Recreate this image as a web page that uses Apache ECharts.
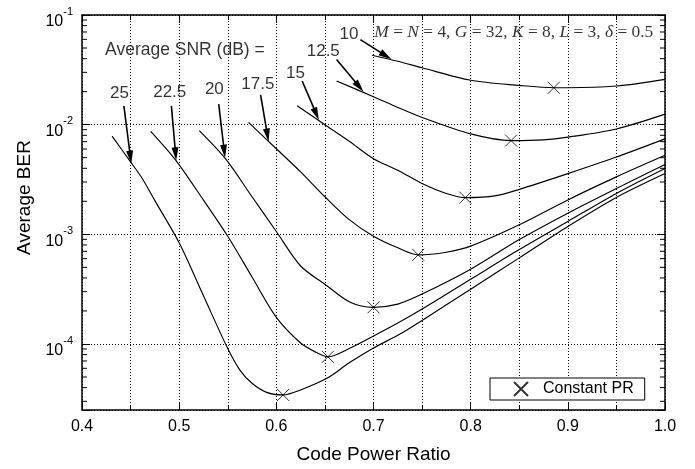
<!DOCTYPE html>
<html><head><meta charset="utf-8">
<script src="https://cdn.jsdelivr.net/npm/echarts@6/dist/echarts.min.js"></script>
<style>html,body{margin:0;padding:0;background:#fff}#c{width:695px;height:469px}</style>
</head><body><div id="c"></div>
<script>
// ---- data ----
const xTickLabels = ['0.4','0.5','0.6','0.7','0.8','0.9','1.0'];
const yDecadeLabels = [-4, -3, -2, -1];
const snrNames = ['10', '12.5', '15', '17.5', '20', '22.5', '25'];
const ber10 = [[0.6985,4.3e-2],[0.725,3.79e-2],[0.75,3.3e-2],[0.8,2.54e-2],[0.85,2.28e-2],[0.886,2.17e-2],[0.9,2.17e-2],[0.95,2.25e-2],[1.0,2.59e-2]];
const ber12p5 = [[0.662,2.5e-2],[0.7,1.8e-2],[0.725,1.436e-2],[0.75,1.164e-2],[0.8,8.24e-3],[0.842,7.16e-3],[0.875,7.27e-3],[0.9,7.69e-3],[0.95,9.14e-3],[1.0,1.248e-2]];
const ber15 = [[0.6214,1.486e-2],[0.65,1.0e-2],[0.675,7.07e-3],[0.7,4.9e-3],[0.725,3.84e-3],[0.75,2.91e-3],[0.775,2.36e-3],[0.795,2.16e-3],[0.825,2.24e-3],[0.85,2.57e-3],[0.9,3.58e-3],[0.95,5.07e-3],[1.0,7.42e-3]];
const ber17p5 = [[0.5714,1.05e-2],[0.6,6.03e-3],[0.625,3.71e-3],[0.65,2.2e-3],[0.675,1.36e-3],[0.7,9.6e-4],[0.725,7.53e-4],[0.746,6.5e-4],[0.775,6.87e-4],[0.8,7.8e-4],[0.85,1.22e-3],[0.9,2.06e-3],[0.95,3.34e-3],[1.0,5.25e-3]];
const ber20 = [[0.5207,8.83e-3],[0.548,4.85e-3],[0.575,2.2e-3],[0.6,1.06e-3],[0.625,5.14e-4],[0.65,3.51e-4],[0.676,2.4e-4],[0.7,2.16e-4],[0.725,2.31e-4],[0.75,2.85e-4],[0.8,4.8e-4],[0.85,8.95e-4],[0.9,1.56e-3],[0.95,2.62e-3],[1.0,4.33e-3]];
const ber22p5 = [[0.4707,8.7e-3],[0.4966,4.73e-3],[0.525,2.05e-3],[0.55,9.6e-4],[0.575,4.08e-4],[0.6,1.75e-4],[0.625,1.02e-4],[0.64,8.47e-5],[0.653,7.63e-5],[0.675,9.08e-5],[0.7,1.18e-4],[0.725,1.55e-4],[0.75,2.08e-4],[0.8,3.89e-4],[0.85,7.26e-4],[0.9,1.31e-3],[0.95,2.36e-3],[1.0,3.98e-3]];
const ber25 = [[0.431,7.85e-3],[0.45,4.57e-3],[0.462,3.23e-3],[0.475,2.03e-3],[0.5,8.36e-4],[0.525,2.75e-4],[0.55,9.08e-5],[0.5625,5.78e-5],[0.575,4.38e-5],[0.59,3.62e-5],[0.607,3.43e-5],[0.625,3.81e-5],[0.652,4.86e-5],[0.675,6.73e-5],[0.7,9.2e-5],[0.725,1.2e-4],[0.75,1.64e-4],[0.8,3.16e-4],[0.85,6.1e-4],[0.9,1.18e-3],[0.95,2.17e-3],[1.0,3.58e-3]];
const constantPR = [[0.607,3.43e-5],[0.653,7.63e-5],[0.70,2.16e-4],[0.746,6.5e-4],[0.7945,2.16e-3],[0.8416,7.16e-3],[0.8856,2.17e-2]];
// annotation label positions (data coords)
const snrLabelX = [0.6748, 0.6483, 0.6197, 0.581, 0.5362, 0.4903, 0.4386];
const snrLabelY = [0.0661, 0.0467, 0.0297, 0.0233, 0.021, 0.0199, 0.0192];
const arrowFromX = [0.6865, 0.662, 0.6266, 0.5838, 0.5407, 0.492, 0.4431];
const arrowFromY = [0.0596, 0.0392, 0.025, 0.01866, 0.01538, 0.01485, 0.01485];
const arrowToX = [0.7184, 0.6897, 0.6438, 0.592, 0.5472, 0.4969, 0.4507];
const arrowToY = [0.0395, 0.02, 0.01102, 0.00702, 0.005, 0.00473, 0.00441];
const headerText = 'Average SNR (dB) =';
const headerPos = [0.5059, 0.0475];
const paramPos = [0.8444, 0.0689];
const minorMultipliers = [2,3,4,5,6,7,8,9];
const minorDecades = [1e-5,1e-4,1e-3,1e-2];

// ---- chart ----
const SANS = '"Liberation Sans", Arial, Helvetica, sans-serif';
const SERIF = '"Liberation Serif", "Times New Roman", serif';
const X_MIN = 0.4, X_MAX = 1.0, Y_MIN = 2.5e-5, Y_MAX = 0.1;
const minorVals = [];
minorDecades.forEach(d => minorMultipliers.forEach(m => { const v = d*m; if (v > Y_MIN && v < Y_MAX) minorVals.push(v); }));

const chart = echarts.init(document.getElementById('c'), null, {renderer:'canvas'});
const curves = [ber10, ber12p5, ber15, ber17p5, ber20, ber22p5, ber25];
const dotted = {color:'#000', width:1, type:[1,2]};
const xCommon = {
  type:'value', min:X_MIN, max:X_MAX, interval:0.1,
  axisLine:{show:true, onZero:false, lineStyle:{color:'#000', width:1.5}},
  axisTick:{show:true, inside:true, length:8, lineStyle:{color:'#000', width:1}},
  minorTick:{show:true, splitNumber:2, length:5, lineStyle:{color:'#000', width:1}},
};
const yCommon = {
  type:'log', logBase:10, min:Y_MIN, max:Y_MAX,
  axisLine:{show:true, onZero:false, lineStyle:{color:'#000', width:1.5}},
  axisTick:{show:true, inside:true, length:8, lineStyle:{color:'#000', width:1}},
};
function isDecade(v){ const l = Math.log10(v); return Math.abs(l - Math.round(l)) < 1e-6; }
const crossPath = 'path://M0,0L10,10M10,0L0,10';

const series = curves.map((c, i) => ({
  name: snrNames[i], type:'line', data:c, showSymbol:false, symbol:'none',
  smooth:0.3,
  lineStyle:{color:'#000', width:1.15}, z:3, silent:true
}));
series.push({
  name:'Constant PR', type:'scatter', data:constantPR, symbol:crossPath, symbolSize:12,
  itemStyle:{color:'rgba(0,0,0,0)', borderColor:'#000', borderWidth:1}, z:5
});
series.push({
  name:'arrows', type:'custom', silent:true, clip:false,
  data: arrowFromX.map((x, i) => [x, arrowFromY[i], arrowToX[i], arrowToY[i]]),
  encode:{x:[0,2], y:[1,3]},
  renderItem:(params, api) => {
    const a = api.coord([api.value(0), api.value(1)]);
    const b = api.coord([api.value(2), api.value(3)]);
    const dx = b[0]-a[0], dy = b[1]-a[1];
    const len = Math.sqrt(dx*dx + dy*dy);
    const ux = dx/len, uy = dy/len;
    const hl = 13, hw = 3.5;
    const bx = b[0] - ux*hl, by = b[1] - uy*hl;
    return {type:'group', children:[
      {type:'line', shape:{x1:a[0], y1:a[1], x2:bx + ux*2, y2:by + uy*2}, style:{stroke:'#000', lineWidth:1.6}},
      {type:'polygon', shape:{points:[[b[0], b[1]], [bx - uy*hw, by + ux*hw], [bx + uy*hw, by - ux*hw]]}, style:{fill:'#000'}}
    ]};
  }, z:6
});
series.push({
  name:'snrLabels', type:'scatter', silent:true, symbolSize:0,
  data: snrLabelX.map((x, i) => ({name:snrNames[i], value:[x, snrLabelY[i]]})),
  label:{show:true, position:'inside', formatter:'{b}', fontFamily:SANS, fontSize:17, color:'#000'}, z:7
});
series.push({
  name:'header', type:'scatter', silent:true, symbolSize:0,
  data:[{name:headerText, value:headerPos}],
  label:{show:true, position:'inside', formatter:'{b}', fontFamily:SANS, fontSize:17.5, color:'#000'}, z:7
});
series.push({
  name:'params', type:'scatter', silent:true, symbolSize:0,
  data:[{name:'params', value:paramPos}],
  label:{show:true, position:'inside', color:'#000',
    formatter:'{i|M}{n| = }{i|N}{n| = 4, }{i|G}{n| = 32, }{i|K}{n| = 8, }{i|L}{n| = 3, }{i|δ}{n| = 0.5}',
    rich:{
      i:{fontFamily:SERIF, fontStyle:'italic', fontSize:17.4, color:'#000'},
      n:{fontFamily:SERIF, fontSize:17.4, color:'#000'}
    }}, z:7
});
series.push({
  name:'minorTicks', type:'custom', silent:true, clip:false,
  data: minorVals.map(v => [X_MIN, v]),
  renderItem:(params, api) => {
    const v = api.value(1);
    const p = api.coord([X_MIN, v]);
    const q = api.coord([X_MAX, v]);
    return {type:'group', children:[
      {type:'line', shape:{x1:p[0], y1:p[1], x2:p[0]+5, y2:p[1]}, style:{stroke:'#000', lineWidth:1}},
      {type:'line', shape:{x1:q[0]-5, y1:q[1], x2:q[0], y2:q[1]}, style:{stroke:'#000', lineWidth:1}}
    ]};
  }, z:8
});

chart.setOption({
  animation:false,
  backgroundColor:'#fff',
  textStyle:{fontFamily:SANS, color:'#000'},
  grid:{left:82, right:30, top:15, bottom:53, containLabel:false, show:false},
  legend:{
    data:['Constant PR'], left:490, top:378, orient:'horizontal',
    backgroundColor:'#fff', borderColor:'#000', borderWidth:1, borderRadius:0,
    padding:[3, 11, 3, 23], itemWidth:14, itemHeight:14, selectedMode:false,
    textStyle:{fontFamily:SANS, fontSize:16, color:'#000', padding:[0,0,0,10]}
  },
  xAxis:[
    Object.assign({}, xCommon, {
      position:'bottom',
      name:'Code Power Ratio', nameLocation:'middle', nameGap:35,
      nameTextStyle:{fontFamily:SANS, fontSize:19, color:'#000'},
      axisLabel:{show:true, margin:9, fontFamily:SANS, fontSize:16, color:'#000',
        formatter:v => { const i = Math.round((v - X_MIN) * 10); return xTickLabels[i] !== undefined ? xTickLabels[i] : ''; }},
      splitLine:{show:true, lineStyle:dotted},
      minorSplitLine:{show:true, lineStyle:dotted}
    }),
    Object.assign({}, xCommon, {position:'top', axisLabel:{show:false}, splitLine:{show:false}})
  ],
  yAxis:[
    Object.assign({}, yCommon, {
      position:'left',
      name:'Average BER', nameLocation:'middle', nameGap:40,
      nameTextStyle:{fontFamily:SANS, fontSize:19, color:'#000', padding:[0,0,0,30]},
      axisLabel:{show:true, margin:9, padding:[6,0,0,0],
        formatter:v => {
          if (!isDecade(v)) return '';
          const e = Math.round(Math.log10(v));
          if (yDecadeLabels.indexOf(e) < 0) return '';
          return '{b|10}{s|' + e + '}';
        },
        rich:{
          b:{fontFamily:SANS, fontSize:16, lineHeight:24, verticalAlign:'bottom', color:'#000'},
          s:{fontFamily:SANS, fontSize:11, lineHeight:14, verticalAlign:'top', color:'#000'}
        }},
      splitLine:{show:true, lineStyle:dotted}
    }),
    Object.assign({}, yCommon, {position:'right', axisLabel:{show:false}, splitLine:{show:false}})
  ],
  series: series
});
</script>
</body></html>
